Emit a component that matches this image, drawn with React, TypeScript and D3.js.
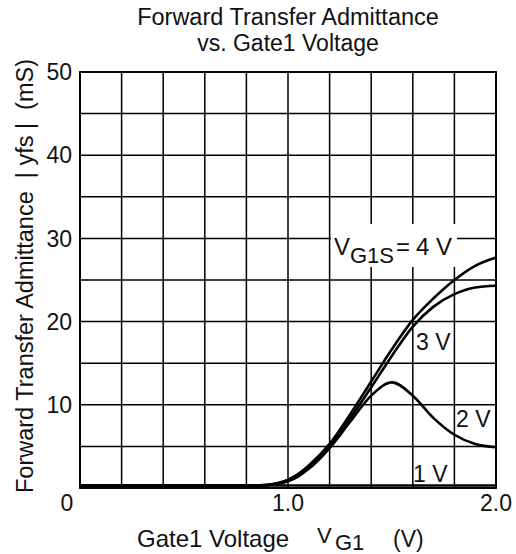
import React from "react";
import * as d3 from "d3";

const vg = [0, 0.5, 0.8, 0.9, 0.95, 1.0, 1.05, 1.1, 1.2, 1.3, 1.4, 1.5, 1.6, 1.7, 1.8, 1.9, 2.0];
const yfs4V = [0.3, 0.3, 0.3, 0.4, 0.6, 1.0, 1.7, 2.7, 5.3, 8.9, 12.8, 16.7, 20.2, 22.8, 25.0, 26.7, 27.7];
const yfs3V = [0.3, 0.3, 0.3, 0.35, 0.5, 0.85, 1.5, 2.5, 5.0, 8.4, 12.1, 15.9, 19.4, 21.8, 23.3, 24.1, 24.3];
const yfs2V = [0.3, 0.3, 0.3, 0.35, 0.5, 0.8, 1.4, 2.3, 4.8, 8.0, 11.1, 12.7, 11.1, 8.4, 6.4, 5.3, 4.9];
const yfs1V = [0.3, 0.3, 0.3, 0.3, 0.3, 0.3, 0.3, 0.3, 0.3, 0.3, 0.3, 0.3, 0.3, 0.3, 0.3, 0.3, 0.3];

const xGrid = [0, 0.2, 0.4, 0.6, 0.8, 1.0, 1.2, 1.4, 1.6, 1.8, 2.0];
const yGrid = [0, 5, 10, 15, 20, 25, 30, 35, 40, 45, 50];
const xTickLabels = [{ v: 1.0, t: "1.0" }, { v: 2.0, t: "2.0" }];
const yTickLabels = [10, 20, 30, 40, 50];

const FONT = "'Liberation Sans', Arial, Helvetica, sans-serif";

export default function App() {
  const x = d3.scaleLinear().domain([0, 2]).range([80, 496]);
  const y = d3.scaleLinear().domain([0, 50]).range([488, 72]);
  const line = d3
    .line<number>()
    .x((_, i) => x(vg[i]))
    .y((d) => y(d))
    .curve(d3.curveMonotoneX);
  const series = [yfs4V, yfs3V, yfs2V, yfs1V];

  return (
    <div style={{ position: "absolute", left: 0, top: 0 }}>
      <svg width={516} height={554} style={{ display: "block", background: "#fff" }} fontFamily={FONT}>
        <rect x={0} y={0} width={516} height={554} fill="#fff" />

        {/* title */}
        <text x={288} y={25} textAnchor="middle" fontSize={23.5} fill="#111">Forward Transfer Admittance</text>
        <text x={288} y={51} textAnchor="middle" fontSize={23} fill="#111">vs. Gate1 Voltage</text>

        {/* grid */}
        {xGrid.map((v) => (
          <line key={"gx" + v} x1={x(v)} x2={x(v)} y1={y(0)} y2={y(50)} stroke="#000" strokeWidth={1.5} />
        ))}
        {yGrid.map((g) => (
          <line key={"gy" + g} x1={x(0)} x2={x(2)} y1={y(g)} y2={y(g)} stroke="#000" strokeWidth={1.5} />
        ))}
        <rect x={x(0)} y={y(50)} width={x(2) - x(0)} height={y(0) - y(50)} fill="none" stroke="#000" strokeWidth={1.9} />

        {/* label box */}
        <rect x={331} y={224} width={126} height={43} fill="#fff" />

        {/* curves */}
        {series.map((s, i) => (
          <path key={"c" + i} d={line(s) || ""} fill="none" stroke="#000" strokeWidth={2.6} />
        ))}

        {/* curve labels */}
        <text x={334} y={255} fontSize={24} fill="#111">V</text>
        <text x={350} y={263} fontSize={22} fill="#111">G1S</text>
        <text x={396} y={255} fontSize={24} fill="#111">=</text>
        <text x={416} y={255} fontSize={24} fill="#111">4 V</text>
        <text x={416} y={350} fontSize={23} fill="#111">3 V</text>
        <text x={456} y={427} fontSize={23} fill="#111">2 V</text>
        <text x={413} y={482} fontSize={23} fill="#111">1 V</text>

        {/* tick labels */}
        <text x={67} y={511} textAnchor="middle" fontSize={23} fill="#111">0</text>
        {xTickLabels.map((d) => (
          <text key={"xt" + d.t} x={x(d.v)} y={511} textAnchor="middle" fontSize={23} fill="#111">{d.t}</text>
        ))}
        {yTickLabels.map((g) => (
          <text key={"yt" + g} x={72} y={y(g)} dy="0.36em" textAnchor="end" fontSize={23} fill="#111">{g}</text>
        ))}

        {/* axis titles */}
        <text x={137} y={547} fontSize={24} fill="#111">Gate1 Voltage</text>
        <text x={317} y={543} fontSize={22} fill="#111">V</text>
        <text x={335} y={550} fontSize={22} fill="#111">G1</text>
        <text x={393} y={547} fontSize={23} fill="#111">(V)</text>
        <text
          transform="translate(33,276) rotate(-90)"
          textAnchor="middle"
          fontSize={23.5}
          fill="#111"
          style={{ whiteSpace: "pre" }}
        >
          {"Forward Transfer Admittance  | yfs |  (mS)"}
        </text>
      </svg>
    </div>
  );
}
